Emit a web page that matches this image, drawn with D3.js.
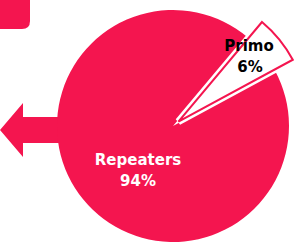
<!DOCTYPE html>
<html lang="en">
<head>
    <meta charset="UTF-8">
    <title></title>
    <script type="text/javascript" src="https://cdn.jsdelivr.net/npm/d3@7"></script>
    <style>
        body{ margin:0; background:#fff; }
        svg{ display:block; }
        .lbl{ font-family:"DejaVu Sans", sans-serif; font-weight:bold; font-size:15px; text-anchor:middle; }
    </style>
</head>
<body>
<div id="chart"></div>
<script type="text/javascript">
    var categories = ["Primo", "Repeaters"];
    var values = [6, 94];
    var pctLabels = ["6%", "94%"];

    var W = 298, H = 246;
    var pink = "#F4154F";
    var cx = 173, cy = 126, r = 116;

    var svg = d3.select("#chart").append("svg")
            .attr("width", W).attr("height", H);

    // corner tab
    svg.append("path")
        .attr("d", "M0,0 H30 V21 Q30,29 22,29 H0 Z")
        .attr("fill", pink);

    // arrow to the left
    svg.append("path")
        .attr("d", "M0,130 L23,103 L23,117 L70,117 L70,143 L23,143 L23,157 Z")
        .attr("fill", pink);

    var pie = d3.pie().sort(null)
            .startAngle(40 * Math.PI / 180)
            .endAngle(400 * Math.PI / 180);
    var arcs = pie(values);

    var arc = d3.arc().innerRadius(0).outerRadius(r);
    var bigArc = d3.arc().innerRadius(0).outerRadius(130);

    var g = svg.append("g").attr("transform", "translate(" + cx + "," + cy + ")");

    // Repeaters
    g.append("path")
        .attr("d", arc(arcs[1]))
        .attr("fill", pink);

    // Primo, pulled out
    var a0 = arcs[0];
    var mid = (a0.startAngle + a0.endAngle) / 2;
    var off = 7;
    var sg = g.append("g")
        .attr("transform", "translate(" + (Math.sin(mid) * off) + "," + (-Math.cos(mid) * off) + ")");
    sg.append("path")
        .attr("d", bigArc(a0))
        .attr("fill", "#fff")
        .attr("stroke", "#fff")
        .attr("stroke-width", 7)
        .attr("stroke-linejoin", "miter");
    sg.append("path")
        .attr("d", bigArc(a0))
        .attr("fill", "#fff")
        .attr("stroke", pink)
        .attr("stroke-width", 2)
        .attr("stroke-linejoin", "miter");

    // labels
    var t1 = svg.append("text").attr("class", "lbl").attr("fill", "#000")
        .attr("x", 249).attr("y", 51);
    t1.append("tspan").attr("x", 249).text(categories[0]);
    t1.append("tspan").attr("x", 250).attr("dy", 21).text(pctLabels[0]);

    var t2 = svg.append("text").attr("class", "lbl").attr("fill", "#fff")
        .attr("x", 138).attr("y", 165);
    t2.append("tspan").attr("x", 138).text(categories[1]);
    t2.append("tspan").attr("x", 138).attr("dy", 21).text(pctLabels[1]);
</script>
</body>
</html>
